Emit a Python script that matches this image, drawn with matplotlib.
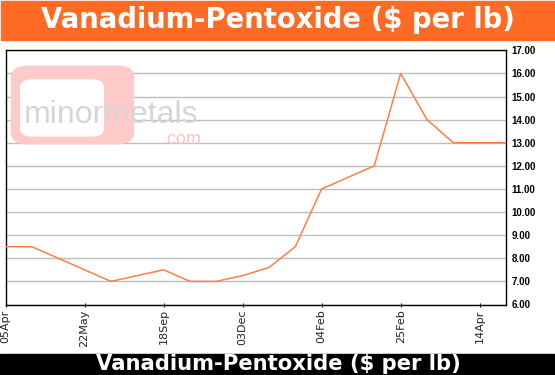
import matplotlib
matplotlib.use("Agg")
import matplotlib.pyplot as plt
from matplotlib.patches import FancyBboxPatch, Rectangle

title = "Vanadium-Pentoxide ($ per lb)"
prices = [8.5, 8.5, 8.0, 7.5, 7.0, 7.25, 7.5, 7.0, 7.0, 7.25,
          7.6, 8.5, 11.0, 11.5, 12.0, 16.0, 14.0, 13.0, 13.0, 13.0]
tick_labels = ["05Apr", "22May", "18Sep", "03Dec", "04Feb", "25Feb", "14Apr"]
tick_step = 3
y_min, y_max = 6, 17

W, H = 555, 375
fig = plt.figure(figsize=(W / 100, H / 100), dpi=100)
fig.patch.set_facecolor("white")

def fx(px):
    return px / W

def fy(py):
    return 1 - py / H

# top orange bar
fig.patches.append(Rectangle((fx(1), fy(39.5)), fx(553), 38.5 / H,
                             transform=fig.transFigure, color="#FF6A24", zorder=0))
fig.text(fx(278), fy(20.5), title, ha="center", va="center", color="white",
         fontsize=19.8, fontweight="bold", family="DejaVu Sans")
# bottom black bar
fig.patches.append(Rectangle((0, 0), fx(554), 21.5 / H,
                             transform=fig.transFigure, color="black", zorder=0))
fig.text(fx(278.5), fy(364), title, ha="center", va="center", color="white",
         fontsize=15.2, fontweight="bold", family="DejaVu Sans")

# watermark
fig.patches.append(FancyBboxPatch((fx(17), fy(140)), fx(111), 70 / H,
                                  boxstyle="round,pad=0.01,rounding_size=0.03",
                                  transform=fig.transFigure, color="#FFCACA", zorder=0.5))
fig.patches.append(FancyBboxPatch((fx(23.5), fy(134)), fx(77), 52 / H,
                                  boxstyle="round,pad=0.005,rounding_size=0.02",
                                  transform=fig.transFigure, color="white", zorder=0.6))
fig.text(fx(24), fy(123), "minormetals", ha="left", va="baseline", color="#D6D6D6",
         fontsize=23, family="Liberation Sans", zorder=0.7)
fig.text(fx(201), fy(143.5), ".com", ha="right", va="baseline", color="#F5C4C4",
         fontsize=13, family="Liberation Sans", zorder=0.7)

left, right, top, bottom = 5.5, 506, 50.3, 304.5
ax = fig.add_axes([fx(left), fy(bottom), fx(right - left), (bottom - top) / H])
ax.set_facecolor("none")

x = list(range(len(prices)))
ax.plot(x, prices, color="#FF7F45", lw=1.1, zorder=3)

ax.set_xlim(0, len(prices) - 1)
ax.set_ylim(y_min, y_max)
ax.set_yticks(range(y_min, y_max + 1))
ax.set_yticklabels([f"{v:.2f}" for v in range(y_min, y_max + 1)],
                   fontsize=7, fontweight="bold", family="Liberation Sans")
ax.yaxis.tick_right()
ax.tick_params(axis="y", length=0, pad=4)
ax.grid(axis="y", color="#BEBEBE", lw=1, zorder=1)

ax.set_xticks(x[::tick_step])
ax.set_xticklabels(tick_labels, rotation=90, fontsize=8, color="#222222")
ax.tick_params(axis="x", length=3, width=0.8, pad=2, direction="inout")

for s in ax.spines.values():
    s.set_color("black")
    s.set_linewidth(1)

fig.savefig("out.png", dpi=100)
